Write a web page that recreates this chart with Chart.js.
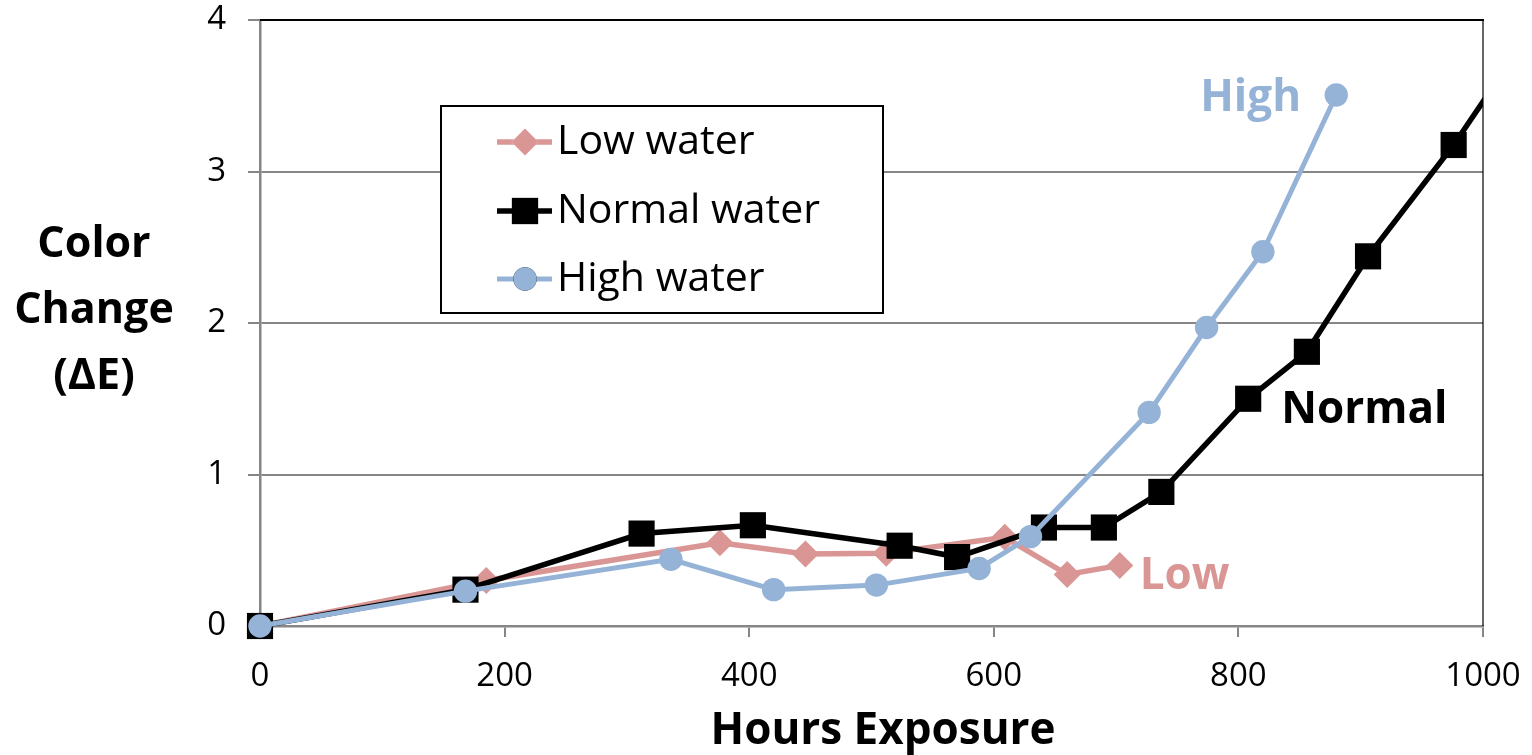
<!DOCTYPE html>
<html>
<head>
<meta charset="utf-8">
<title>Color Change vs Hours Exposure</title>
<script src="https://cdn.jsdelivr.net/npm/chart.js@4"></script>
<style>
  body { margin: 0; background: #fff; }
  canvas { display: block; }
</style>
</head>
<body>
<canvas id="chart" width="1532" height="755"></canvas>
<script>
// values
const lowHours = [0, 185, 376, 446, 512, 609, 660, 703];
const lowDE = [0, 0.30, 0.55, 0.475, 0.48, 0.585, 0.34, 0.40];

const normalHours = [0, 168, 312, 403, 523, 570, 641, 690, 737, 808, 856, 906, 976, 1030];
const normalDE = [0, 0.24, 0.61, 0.665, 0.53, 0.455, 0.65, 0.65, 0.885, 1.50, 1.81, 2.44, 3.175, 3.82];

const highHours = [0, 168, 336, 420, 504, 588, 630, 727, 774, 820, 880];
const highDE = [0, 0.23, 0.44, 0.24, 0.27, 0.38, 0.59, 1.41, 1.97, 2.47, 3.505];

const seriesNames = ['Low water', 'Normal water', 'High water'];
const endLabels = ['Low', 'Normal', 'High'];
const yTitleLines = ['Color', 'Change', '(ΔE)'];
const xTitle = 'Hours Exposure';

const PINK = '#d99694';
const BLACK = '#000000';
const BLUE = '#95b3d7';
const GRID = '#868686';
const FONT = "'Open Sans', sans-serif";

const toPoints = (xs, ys) => xs.map((x, i) => ({ x: x, y: ys[i] }));

// where the end labels sit, in data units
const labelSpots = [
  { x: 756, y: 0.33, color: PINK },
  { x: 903, y: 1.42, color: BLACK },
  { x: 810, y: 3.485, color: BLUE }
];

// titles, legend box, plot frame and series labels
const decor = {
  id: 'decor',
  afterDraw(chart) {
    const ctx = chart.ctx;
    const area = chart.chartArea;
    const xs = chart.scales.x;
    const ys = chart.scales.y;
    ctx.save();

    // frame: black top, thin black right
    ctx.strokeStyle = BLACK;
    ctx.lineWidth = 2;
    ctx.beginPath();
    ctx.moveTo(area.left, area.top);
    ctx.lineTo(area.right + 1, area.top);
    ctx.stroke();
    ctx.lineWidth = 1.2;
    ctx.beginPath();
    ctx.moveTo(area.right, area.top);
    ctx.lineTo(area.right, area.bottom);
    ctx.stroke();

    // y title, horizontal on three lines
    ctx.fillStyle = BLACK;
    ctx.font = 'bold 43px ' + FONT;
    ctx.textAlign = 'center';
    ctx.textBaseline = 'middle';
    yTitleLines.forEach((t, i) => ctx.fillText(t, 94, 245 + i * 66));

    // x title
    ctx.font = 'bold 44px ' + FONT;
    ctx.fillText(xTitle, 883, 731);

    // labels at the ends of the series
    ctx.font = 'bold 44px ' + FONT;
    labelSpots.forEach((s, i) => {
      ctx.fillStyle = s.color;
      ctx.fillText(endLabels[i], xs.getPixelForValue(s.x), ys.getPixelForValue(s.y));
    });

    // legend box
    const box = { left: 441, top: 106, width: 442, height: 207 };
    ctx.fillStyle = '#fff';
    ctx.fillRect(box.left, box.top, box.width, box.height);
    ctx.strokeStyle = BLACK;
    ctx.lineWidth = 2;
    ctx.strokeRect(box.left, box.top, box.width, box.height);

    const rowsY = [142, 211, 279];
    chart.data.datasets.forEach((ds, i) => {
      const y = rowsY[i];
      ctx.strokeStyle = ds.borderColor;
      ctx.lineWidth = ds.borderWidth;
      ctx.beginPath();
      ctx.moveTo(497, y);
      ctx.lineTo(552, y);
      ctx.stroke();
      Chart.helpers.drawPoint(ctx, {
        pointStyle: ds.pointStyle,
        radius: ds.pointRadius,
        borderWidth: 0,
        rotation: 0
      }, 525, y);
      ctx.fillStyle = ds.pointBackgroundColor;
      ctx.fill();
      ctx.fillStyle = BLACK;
      ctx.font = '41px ' + FONT;
      ctx.textAlign = 'left';
      ctx.fillText(seriesNames[i], 557, y);
    });

    ctx.restore();
  }
};

const ctx = document.getElementById('chart').getContext('2d');
const chart = new Chart(ctx, {
  type: 'line',
  data: {
    datasets: [
      {
        label: seriesNames[0],
        data: toPoints(lowHours, lowDE),
        borderColor: PINK,
        backgroundColor: PINK,
        pointBackgroundColor: PINK,
        pointBorderWidth: 0,
        borderWidth: 5.5,
        pointStyle: 'rectRot',
        pointRadius: 13.5,
        order: 3,
        clip: false
      },
      {
        label: seriesNames[1],
        data: toPoints(normalHours, normalDE),
        borderColor: BLACK,
        backgroundColor: BLACK,
        pointBackgroundColor: BLACK,
        pointBorderWidth: 0,
        borderWidth: 5.5,
        pointStyle: 'rect',
        pointRadius: 18.5,
        order: 2,
        clip: { left: false, top: false, bottom: false, right: 0 }
      },
      {
        label: seriesNames[2],
        data: toPoints(highHours, highDE),
        borderColor: BLUE,
        backgroundColor: BLUE,
        pointBackgroundColor: BLUE,
        pointBorderWidth: 0,
        borderWidth: 5,
        pointStyle: 'circle',
        pointRadius: 11.7,
        order: 1,
        clip: false
      }
    ]
  },
  options: {
    responsive: false,
    animation: false,
    events: [],
    layout: { padding: { left: 0, top: 20, right: 49, bottom: 0 } },
    scales: {
      x: {
        type: 'linear',
        min: 0,
        max: 1000,
        ticks: {
          stepSize: 200, color: BLACK, padding: 20,
          font: { family: FONT, size: 33 },
          callback: v => String(v)
        },
        grid: { drawOnChartArea: false, color: GRID, lineWidth: 2, tickLength: 11 },
        border: { color: GRID, width: 2.5 },
        afterFit: s => {
          s.height = 129;
          s.paddingLeft = 0;
          s.paddingRight = 0;
        }
      },
      y: {
        type: 'linear',
        min: 0,
        max: 4,
        ticks: { stepSize: 1, color: BLACK, padding: 22, font: { family: FONT, size: 33 } },
        grid: { color: GRID, lineWidth: 2, tickLength: 12 },
        border: { color: GRID, width: 2.5 },
        afterFit: s => {
          s.width = 260;
          s.paddingTop = 0;
          s.paddingBottom = 0;
        }
      }
    },
    plugins: {
      legend: { display: false },
      tooltip: { enabled: false }
    }
  },
  plugins: [decor]
});
</script>
</body>
</html>
